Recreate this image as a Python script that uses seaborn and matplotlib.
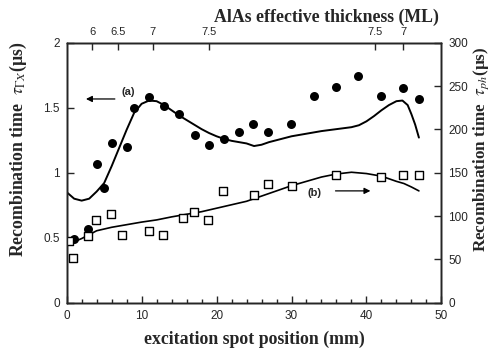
import numpy as np
import pandas as pd
import matplotlib
matplotlib.use("Agg")
import matplotlib.pyplot as plt
import seaborn as sns

# ============================================================
# data
# ============================================================

# filled circles, tau_GX (us), left axis
gx_pos = [1.0, 2.9, 4.0, 5.0, 6.0, 8.0, 9.0, 11.0, 13.0, 15.0, 17.1, 19.0,
          21.0, 23.0, 24.8, 26.9, 29.9, 33.0, 35.9, 38.9, 41.9, 44.9, 47.0]
gx_tau = [0.487, 0.565, 1.067, 0.88, 1.23, 1.20, 1.50, 1.585, 1.51, 1.45, 1.29, 1.21,
          1.257, 1.31, 1.375, 1.315, 1.375, 1.59, 1.66, 1.74, 1.59, 1.65, 1.567]

# open squares, tau_ph (us), right axis
ph_pos = [0.3, 0.9, 2.9, 3.9, 5.95, 7.4, 11.0, 12.9, 15.5, 17.0, 18.9, 20.9,
          25.0, 26.9, 30.0, 35.9, 41.9, 44.9, 47.0]
ph_tau = [71.5, 52, 77, 95, 102, 78, 83, 78, 98, 105, 95, 129,
          124, 137, 135, 147, 145, 147, 147]

# curve (a)
curve_a_pos = [0, 1, 2, 3, 4, 5, 6, 7, 8, 9, 10, 11, 12, 13, 14, 15, 16, 17, 18, 19,
               20, 21, 22, 23, 24, 25, 26, 27, 28, 29, 30, 32, 34, 36, 38, 39, 40,
               41, 42, 43, 44, 44.8, 45.5, 46, 46.5, 47]
curve_a_tau = [0.85, 0.80, 0.785, 0.80, 0.855, 0.92, 1.05, 1.19, 1.33, 1.46, 1.53, 1.555,
               1.55, 1.52, 1.48, 1.44, 1.405, 1.37, 1.335, 1.305, 1.28, 1.26, 1.245,
               1.235, 1.225, 1.205, 1.215, 1.235, 1.25, 1.265, 1.28, 1.30, 1.32, 1.335,
               1.35, 1.365, 1.395, 1.435, 1.48, 1.52, 1.55, 1.555, 1.52, 1.45, 1.37, 1.27]

# curve (b)
curve_b_pos = [0, 2, 4, 6, 8, 10, 12, 14, 16, 18, 20, 22, 24, 26, 28, 30, 32, 34,
               36, 38, 40, 42, 44, 45, 46, 47]
curve_b_tau = [66.7, 74, 83, 87, 90, 93, 95.5, 99, 102, 105, 109, 113, 117, 123, 129,
               135, 140, 145, 148.5, 150.5, 149, 146, 140, 137.5, 133.5, 129]

# top axis: AlAs effective thickness at given spot positions
top_tick_pos = [3.4, 6.9, 11.5, 19.0, 41.2, 44.9]
top_tick_labels = ["6", "6.5", "7", "7.5", "7.5", "7"]

# ============================================================
# style
# ============================================================

sns.set_style("ticks")
plt.rcParams["font.family"] = ["Liberation Sans", "DejaVu Sans"]
plt.rcParams["mathtext.fontset"] = "stix"

label_font = dict(family="Liberation Serif", fontweight="bold", fontsize=12.8)

fig = plt.figure(figsize=(4.95, 3.49), dpi=100)
ax = fig.add_axes([0.1347, 0.1327, 0.757, 0.745])
ax_r = ax.twinx()
ax_t = ax.twiny()

# left axis: tau_GX
sns.lineplot(x=curve_a_pos, y=curve_a_tau, ax=ax, color="black", linewidth=1.4)
sns.scatterplot(x=gx_pos, y=gx_tau, ax=ax, color="black", s=42,
                edgecolor="black", linewidth=0, zorder=3)

# right axis: tau_ph
sns.lineplot(x=curve_b_pos, y=curve_b_tau, ax=ax_r, color="black", linewidth=1.2)
sns.scatterplot(x=ph_pos, y=ph_tau, ax=ax_r, marker="s", s=34,
                facecolor="white", edgecolor="black", linewidth=1.0, zorder=3)

ax.set_xlim(0, 50)
ax.set_ylim(0, 2)
ax_r.set_ylim(0, 300)
ax_t.set_xlim(0, 50)

ax.set_xticks(np.arange(0, 51, 10))
ax.set_xticks(np.arange(0, 51, 2), minor=True)
ax.set_yticks(np.arange(0, 2.01, 0.5))
ax.set_yticklabels(["0", "0.5", "1", "1.5", "2"])
ax_r.set_yticks(np.arange(0, 301, 50))

ax.tick_params(axis="x", which="major", direction="in", length=5, width=1,
               labelsize=8.5, pad=5, top=False)
ax.tick_params(axis="x", which="minor", direction="in", length=3, width=1, top=False)
ax.tick_params(axis="y", direction="in", length=5, width=1, labelsize=8.5, pad=5,
               right=False)
ax_r.tick_params(axis="y", direction="in", length=5, width=1, labelsize=8.5, pad=5)

ax_t.set_xticks(top_tick_pos)
ax_t.set_xticklabels(top_tick_labels)
ax_t.tick_params(axis="x", direction="in", length=5, width=1, labelsize=8, pad=4)

for a in (ax, ax_r, ax_t):
    for sp in a.spines.values():
        sp.set_linewidth(1.0)
        sp.set_visible(True)

# labels
ax.set_xlabel("excitation spot position (mm)", **label_font)
ax.xaxis.set_label_coords(0.5, -0.108)
ax.set_ylabel(r"Recombination time  $\tau_{\Gamma X}$(µs)", **label_font)
ax.yaxis.set_label_coords(-0.1, 0.59)
ax_r.set_ylabel(r"Recombination time  $\tau_{ph}$(µs)",
                family="Liberation Serif", fontweight="bold", fontsize=12.3)
ax_r.yaxis.set_label_coords(1.08, 0.59)
ax_t.set_xlabel("AlAs effective thickness (ML)", **label_font)
ax_t.xaxis.set_label_coords(0.694, 1.08)

# annotations
ax.text(8.2, 1.62, "(a)", fontsize=8, fontweight="bold", ha="center", va="center")
ax.annotate("", xy=(2.2, 1.567), xytext=(6.8, 1.567),
            arrowprops=dict(arrowstyle="-|>", color="black", lw=0.9, mutation_scale=9))
ax_r.text(33.1, 126, "(b)", fontsize=8, fontweight="bold", ha="center", va="center")
ax_r.annotate("", xy=(40.9, 129), xytext=(35.5, 129),
              arrowprops=dict(arrowstyle="-|>", color="black", lw=0.9, mutation_scale=9))

fig.savefig("out.png", dpi=100)
